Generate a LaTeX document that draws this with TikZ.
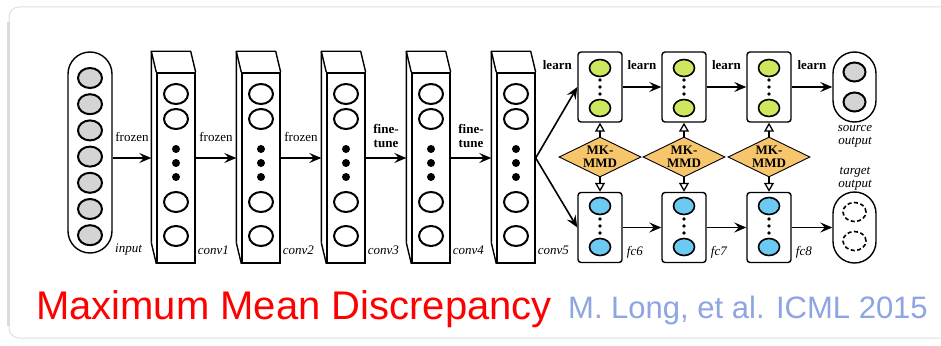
\documentclass[tikz,border=0pt]{standalone}
\usepackage{fontspec}
\setmainfont{Liberation Serif}
\newfontfamily\titlefont{Liberation Sans}
\usetikzlibrary{shapes.geometric,arrows.meta,calc}
\definecolor{titlered}{HTML}{FF0000}
\definecolor{citeblue}{HTML}{8EA5E2}
\definecolor{mmdfill}{HTML}{F7C56B}
\definecolor{srcgreen}{HTML}{CDE85E}
\definecolor{tgtblue}{HTML}{6CC9F2}
\definecolor{inputgray}{HTML}{D4D4D4}
\begin{document}
\begin{tikzpicture}[x=1pt,y=-1pt,
  unit/.style={ellipse,draw,line width=2pt,minimum width=24pt,minimum height=20pt,inner sep=0pt},
  smallunit/.style={ellipse,draw,line width=1.6pt,minimum width=21pt,minimum height=17pt,inner sep=0pt},
  hollowunit/.style={ellipse,draw,line width=1.6pt,dash pattern=on 4pt off 2.5pt,minimum width=23pt,minimum height=19pt,inner sep=0pt},
  bigdot/.style={circle,fill,inner sep=0pt,minimum size=8pt},
  tinydot/.style={circle,fill,inner sep=0pt,minimum size=3.8pt},
  convface/.style={draw,line width=1.4pt,minimum width=38pt,minimum height=190pt,inner sep=0pt},
  fcbox/.style={draw,rounded corners=3pt,line width=1.4pt,minimum width=44pt,minimum height=70pt,inner sep=0pt},
  capsule/.style={draw,rounded corners=21pt,line width=1.4pt,minimum width=43pt,inner sep=0pt},
  mmd/.style={diamond,draw,fill=mmdfill,line width=0.9pt,minimum width=82pt,minimum height=40pt,inner sep=0pt},
  flow/.style={line width=1.6pt,-{Stealth[length=12pt,width=10pt,inset=4.5pt]}},
  tie/.style={line width=1.3pt,-{Triangle[open,length=9pt,width=10pt]}},
  lbl/.style={font=\fontsize{13}{13}\selectfont\itshape,inner sep=0pt,align=center},
  note/.style={font=\fontsize{13}{13}\selectfont,inner sep=0pt,align=center},
  tag/.style={font=\fontsize{13}{13.5}\selectfont\bfseries,inner sep=0pt,align=center},
  edge/.style={line width=1.4pt,line join=round}]

\useasboundingbox (0,0) rectangle (941,345);
\clip (0,0) rectangle (941,345);

% card background
\draw[black!12,line width=1pt,fill=white,rounded corners=10pt] (9,7) rectangle (990,338);
\draw[black!14,line width=2.5pt] (8.5,22) -- (8.5,326);

% row of the conv arrows
\coordinate (row) at (0,158);

% input layer
\node[capsule,minimum width=44pt,minimum height=201pt,rounded corners=22pt] (input) at (90,152.5) {};
\foreach \k in {0,...,6}
  \node[unit,fill=inputgray] at (90,{78+26.2*\k}) {};
\node[lbl,anchor=west] at (115,250) {input};

% convolutional layers drawn as boxes
\foreach \n/\x in {conv1/176,conv2/261,conv3/346,conv4/431,conv5/516} {
  \node[convface] (\n) at (\x,168) {};
  \draw[edge] ($(\n.south west)+(-5,-21)$) -- ($(\n.north west)+(-5,-21)$)
              -- ($(\n.north east)+(-5,-21)$) -- (\n.north east);
  \draw[edge] ($(\n.north west)+(-5,-21)$) -- (\n.north west);
  \draw[edge] ($(\n.south west)+(-5,-21)$) -- (\n.south west);
  \foreach \dy in {-74,-49,34,68}
    \node[unit] at (\x,{168+\dy}) {};
  \foreach \dy in {-19,-5,9}
    \node[bigdot] at (\x,{168+\dy}) {};
  \node[lbl,anchor=west] at ($(\n.south east)+(2,-13)$) {\n};
}

% arrows between input and conv layers
\draw[flow] (input.east |- row) -- node[note,yshift=21pt] {frozen} ($(conv1.west |- row)+(-5,0)$);
\draw[flow] (conv1.east |- row) -- node[note,yshift=21pt] {frozen} ($(conv2.west |- row)+(-5,0)$);
\draw[flow] (conv2.east |- row) -- node[note,yshift=21pt] {frozen} ($(conv3.west |- row)+(-5,0)$);
\draw[flow] (conv3.east |- row) -- node[tag,yshift=22pt] {fine-\\tune} ($(conv4.west |- row)+(-5,0)$);
\draw[flow] (conv4.east |- row) -- node[tag,yshift=22pt] {fine-\\tune} ($(conv5.west |- row)+(-5,0)$);

% fully connected layers: source (top) and target (bottom)
\foreach \n/\x in {fc6/600,fc7/684,fc8/769} {
  \node[fcbox] (\n s) at (\x,87) {};
  \node[smallunit,fill=srcgreen] at (\x,68) {};
  \node[smallunit,fill=srcgreen] at (\x,108) {};
  \foreach \y in {80,87,94} \node[tinydot] at (\x,\y) {};
  \node[fcbox] (\n t) at (\x,227.5) {};
  \node[smallunit,fill=tgtblue] at (\x,206) {};
  \node[smallunit,fill=tgtblue] at (\x,247) {};
  \foreach \y in {219,226,233} \node[tinydot] at (\x,\y) {};
  \node[lbl,anchor=west] at ($(\n t.south east)+(4,-11)$) {\n};
  \node[mmd] (mmd\n) at (\x,157) {};
  \node[tag] at (mmd\n) {MK-\\MMD};
  \draw[tie] (mmd\n.north) -- (\n s.south);
  \draw[tie] (mmd\n.south) -- (\n t.north);
}

% output layers
\node[capsule,minimum height=70pt,rounded corners=21.5pt] (srcout) at (854.5,87) {};
\node[unit,fill=inputgray,minimum width=22pt,minimum height=19pt] at (854.5,72) {};
\node[unit,fill=inputgray,minimum width=22pt,minimum height=19pt] at (854.5,102) {};
\node[lbl] at (855,136.5) {source\\output};
\node[capsule,minimum height=71pt,rounded corners=21.5pt] (tgtout) at (854.5,227.5) {};
\node[hollowunit] at (854.5,212) {};
\node[hollowunit] at (854.5,241) {};
\node[lbl] at (855,178.5) {target\\output};

% fork from conv5 and forward arrows
\draw[flow] (conv5.east |- row) -- (fc6s.west);
\draw[flow] (conv5.east |- row) -- (fc6t.west);
\node[tag] at ($(fc6s.west)+(-20,-22)$) {learn};
\draw[flow] (fc6s.east) -- node[tag,yshift=22pt] {learn} (fc7s.west);
\draw[flow] (fc7s.east) -- node[tag,yshift=22pt] {learn} (fc8s.west);
\draw[flow] (fc8s.east) -- node[tag,yshift=22pt] {learn} (srcout.west);
\draw[flow] (fc6t.east) -- (fc7t.west);
\draw[flow] (fc7t.east) -- (fc8t.west);
\draw[flow] (fc8t.east) -- (tgtout.west);

% caption
\node[anchor=base west,inner sep=0pt,text=titlered,font=\titlefont\fontsize{40}{40}\selectfont] (title) at (36,319) {Maximum Mean Discrepancy};
\node[anchor=base west,inner sep=0pt,text=citeblue,font=\titlefont\fontsize{31}{31}\selectfont] (cite) at (568,318) {M. Long, et al. ICML 2015};
\end{tikzpicture}
\end{document}
